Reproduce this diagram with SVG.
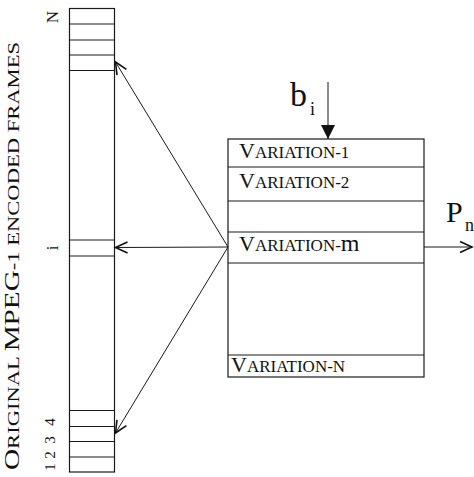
<svg xmlns="http://www.w3.org/2000/svg" width="474" height="477" viewBox="0 0 474 477">
<defs>
<style>
.ln{stroke:#1a1a1a;stroke-width:1.2;fill:none}
.cell{stroke:#1a1a1a;stroke-width:1.2;fill:#fff}
.t{font-family:"Liberation Serif","Times New Roman",serif;fill:#111}
.big{font-size:22px}
.sm{font-size:17px}
.conn{stroke:#1a1a1a;stroke-width:1;fill:none}
</style>
<marker id="open" markerUnits="userSpaceOnUse" markerWidth="16" markerHeight="12" refX="13" refY="6" orient="auto" overflow="visible">
<path d="M1,0.5 L13,6 L1,11.5" fill="none" stroke="#111" stroke-width="1.6"/>
</marker>
<marker id="solid" markerUnits="userSpaceOnUse" markerWidth="16" markerHeight="16" refX="14" refY="7" orient="auto" overflow="visible">
<path d="M0,0 L14,7 L0,14 Z" fill="#111"/>
</marker>
</defs>
<rect width="474" height="477" fill="#fff"/>

<g id="frames">
<rect class="cell" x="69.5" y="8.5" width="45" height="463.5"/>
<line class="ln" x1="69.5" y1="24" x2="114.5" y2="24"/>
<line class="ln" x1="69.5" y1="40" x2="114.5" y2="40"/>
<line class="ln" x1="69.5" y1="55" x2="114.5" y2="55"/>
<line class="ln" x1="69.5" y1="70.5" x2="114.5" y2="70.5"/>
<line class="ln" x1="69.5" y1="240" x2="114.5" y2="240"/>
<line class="ln" x1="69.5" y1="256" x2="114.5" y2="256"/>
<line class="ln" x1="69.5" y1="410.5" x2="114.5" y2="410.5"/>
<line class="ln" x1="69.5" y1="426.5" x2="114.5" y2="426.5"/>
<line class="ln" x1="69.5" y1="441.5" x2="114.5" y2="441.5"/>
<line class="ln" x1="69.5" y1="457" x2="114.5" y2="457"/>
</g>

<g id="frame-labels">
<text class="t" font-size="17" text-anchor="middle" transform="translate(58,17) rotate(-90)">N</text>
<text class="t" font-size="17" text-anchor="middle" transform="translate(58,248) rotate(-90)">i</text>
<text class="t" font-size="15" text-anchor="middle" transform="translate(55,472) rotate(-90)" x="5 17 32 50">1234</text>
</g>

<g id="title">
<text class="t" transform="translate(19,470) rotate(-90)" textLength="428" lengthAdjust="spacingAndGlyphs"><tspan class="big">O</tspan><tspan class="sm">RIGINAL </tspan><tspan class="big">MPEG</tspan><tspan class="sm">-1 ENCODED FRAMES</tspan></text>
</g>

<g id="variations">
<rect class="cell" x="228" y="139" width="196" height="238"/>
<line class="ln" x1="228" y1="167" x2="424" y2="167"/>
<line class="ln" x1="228" y1="201" x2="424" y2="201"/>
<line class="ln" x1="228" y1="232" x2="424" y2="232"/>
<line class="ln" x1="228" y1="263" x2="424" y2="263"/>
<line class="ln" x1="228" y1="355" x2="424" y2="355"/>
<text class="t" x="239" y="158"><tspan class="big">V</tspan><tspan class="sm">ARIATION-1</tspan></text>
<text class="t" x="239" y="188"><tspan class="big">V</tspan><tspan class="sm">ARIATION-2</tspan></text>
<text class="t" x="239" y="251"><tspan class="big">V</tspan><tspan class="sm">ARIATION-</tspan><tspan font-size="24">m</tspan></text>
<text class="t" x="231" y="372"><tspan class="big">V</tspan><tspan class="sm">ARIATION-N</tspan></text>
</g>

<g id="input-label">
<text class="t" x="290" y="106" font-size="34">b</text>
<text class="t" x="310" y="115" font-size="18">i</text>
</g>

<g id="output-label">
<text class="t" x="446" y="222" font-size="30">P</text>
<text class="t" x="465" y="231" font-size="18">n</text>
</g>

<g id="connectors">
<line class="conn" x1="328" y1="82" x2="328" y2="139" marker-end="url(#solid)"/>
<line class="conn" x1="228" y1="247" x2="115.5" y2="62" marker-end="url(#open)"/>
<line class="conn" x1="228" y1="247" x2="115.5" y2="247.5" marker-end="url(#open)"/>
<line class="conn" x1="228" y1="247" x2="115.5" y2="433" marker-end="url(#open)"/>
<line class="conn" x1="424" y1="247" x2="472" y2="247" marker-end="url(#open)"/>
</g>
</svg>
